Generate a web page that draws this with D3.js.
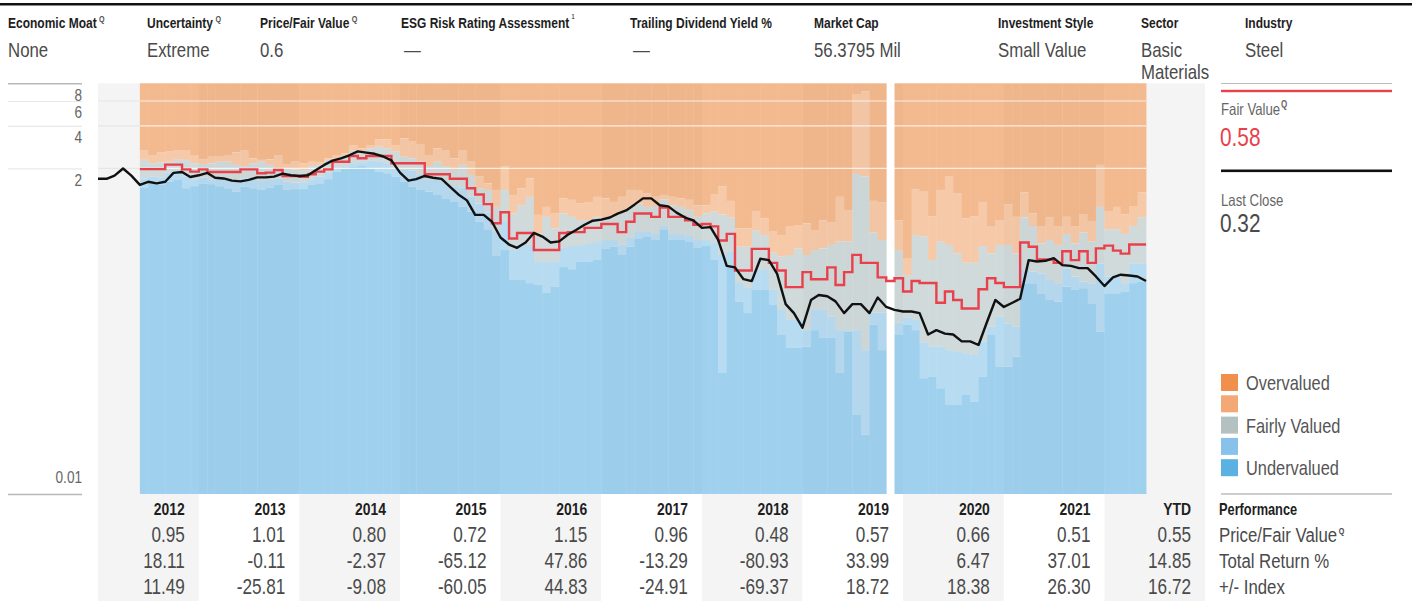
<!DOCTYPE html>
<html>
<head>
<meta charset="utf-8">
<script src="https://cdn.jsdelivr.net/npm/d3@7"></script>
<style>
  body { margin: 0; background: #fff; }
  svg { display: block; font-family: "Liberation Sans", Arial, sans-serif; }
</style>
</head>
<body>
<svg id="chart" width="1412" height="601"></svg>
<script>
// ---- header facts ----
const headerLabels = ["Economic Moat", "Uncertainty", "Price/Fair Value", "ESG Risk Rating Assessment",
  "Trailing Dividend Yield %", "Market Cap", "Investment Style", "Sector", "Industry"];
const headerMarks = ["Q", "Q", "Q", "1", "", "", "", "", ""];
const headerValues = ["None", "Extreme", "0.6", "—", "—", "56.3795 Mil", "Small Value", "Basic|Materials", "Steel"];

// ---- performance table ----
const years = ["2012", "2013", "2014", "2015", "2016", "2017", "2018", "2019", "2020", "2021", "YTD"];
const priceToFair = [0.95, 1.01, 0.80, 0.72, 1.15, 0.96, 0.48, 0.57, 0.66, 0.51, 0.55];
const totalReturn = [18.11, -0.11, -2.37, -65.12, 47.86, -13.29, -80.93, 33.99, 6.47, 37.01, 14.85];
const vsIndex = [11.49, -25.81, -9.08, -60.05, 44.83, -24.91, -69.37, 18.72, 18.38, 26.30, 16.72];
const rowLabels = ["Performance", "Price/Fair Value", "Total Return %", "+/- Index"];

// ---- y axis ticks ----
const yTicks = [8, 6, 4, 2, 0.01];
const yGrid = [6, 4, 2];

// ---- monthly valuation bands, Jun 2012 .. May 2022 (null = no data) ----
const overvaluedFloor = [2.70,2.49,2.59,2.63,2.70,2.67,2.49,2.33,2.42,2.45,
 2.49,2.59,2.70,2.36,2.30,2.32,2.49,2.15,2.23,2.18,
 2.26,2.20,2.36,2.49,2.56,2.90,2.78,2.93,3.22,3.22,
 2.93,3.27,3.09,2.98,2.49,2.78,2.70,2.36,2.70,2.23,
 1.75,1.57,1.41,2.06,1.30,1.45,1.70,0.94,1.07,0.96,
 1.23,1.20,1.13,1.16,1.26,1.23,1.16,1.26,1.41,1.41,
 1.34,1.26,1.30,1.26,1.23,1.20,1.10,1.10,1.32,1.49,
 1.18,0.755,0.755,0.99,0.89,0.715,0.677,0.784,0.797,0.82,
 0.726,0.855,0.827,1.26,1.005,6.72,6.98,1.18,1.146,null,
 0.855,0.46,1.43,1.37,0.92,1.41,1.75,1.34,0.89,0.92,
 1.16,0.775,0.865,1.12,0.91,1.35,0.96,0.784,0.898,0.784,
 0.91,0.775,0.953,0.84,2.12,0.99,1.07,0.95,1.086,1.357];
const fairCeiling = [2.30,2.18,2.21,2.23,2.33,2.30,2.18,2.15,2.18,2.23,
 2.23,2.12,2.08,2.18,2.23,2.12,2.00,2.00,1.97,1.95,
 2.08,2.12,2.30,2.36,2.49,2.67,2.63,2.78,2.85,2.78,
 2.63,2.42,2.36,2.23,2.08,2.23,2.08,1.95,2.12,1.80,
 1.45,1.41,1.07,1.41,0.96,1.10,1.26,0.696,0.91,0.755,
 0.96,0.91,0.865,0.865,0.91,0.89,0.91,0.99,1.07,1.13,
 1.07,1.086,1.21,1.10,1.07,1.02,0.91,0.96,0.99,0.948,
 0.903,0.56,0.56,0.726,0.677,0.508,0.476,0.489,0.545,0.489,
 0.53,0.545,0.576,0.607,0.607,1.83,1.75,0.703,0.624,null,
 0.53,0.353,0.677,0.659,0.451,0.607,0.576,0.503,0.431,0.431,
 0.566,0.503,0.576,0.576,0.503,0.903,0.784,0.592,0.624,0.576,
 0.688,0.592,0.703,0.607,1.07,0.743,0.743,0.688,0.784,0.903];
const fairFloor = [1.70,1.75,1.73,1.87,1.90,1.75,1.68,1.73,1.68,1.66,
 1.68,1.66,1.70,1.70,1.63,1.66,1.70,1.61,1.59,1.58,
 1.66,1.75,1.86,2.02,2.05,2.18,2.19,2.27,2.23,2.18,
 2.00,1.95,1.93,1.80,1.66,1.66,1.60,1.50,1.46,1.26,
 1.13,0.98,0.711,0.837,0.53,0.576,0.576,0.436,0.436,0.436,
 0.548,0.566,0.566,0.585,0.604,0.624,0.624,0.576,0.645,0.711,
 0.711,0.688,0.784,0.688,0.688,0.666,0.624,0.624,0.595,0.489,
 0.514,0.310,0.286,0.383,0.383,0.277,0.200,0.170,0.170,0.144,
 0.200,0.200,0.179,0.144,0.144,0.144,0.104,0.191,0.191,null,
 0.162,0.176,0.170,0.117,0.110,0.110,0.104,0.101,0.0989,0.0962,
 0.119,0.152,0.179,0.161,0.152,0.383,0.373,0.363,0.326,0.305,
 0.394,0.344,0.317,0.309,0.427,0.344,0.344,0.305,0.427,0.427];
const undervaluedCeiling = [1.47,1.57,1.53,1.61,1.66,1.45,1.50,1.57,1.55,1.50,
 1.45,1.37,1.49,1.45,1.41,1.47,1.53,1.41,1.43,1.43,
 1.53,1.57,1.68,1.90,2.00,2.06,2.08,2.00,1.90,1.85,
 1.75,1.61,1.49,1.41,1.37,1.30,1.23,1.16,1.07,0.99,
 0.84,0.735,0.481,0.53,0.326,0.326,0.309,0.300,0.264,0.292,
 0.404,0.388,0.438,0.438,0.451,0.545,0.56,0.489,0.56,0.642,
 0.656,0.624,0.735,0.624,0.624,0.604,0.548,0.566,0.451,0.0717,
 0.396,0.228,0.190,0.277,0.277,0.217,0.133,0.108,0.108,0.110,
 0.144,0.127,0.127,0.0717,0.140,0.0362,0.0262,0.157,0.104,null,
 0.133,0.157,0.144,0.0658,0.0675,0.0559,0.0426,0.0426,0.0502,0.0449,
 0.0675,0.133,0.0795,0.0795,0.0936,0.309,0.309,0.262,0.235,0.229,
 0.292,0.277,0.285,0.223,0.140,0.262,0.262,0.269,0.309,0.317];
const fairValue = [1.98,1.98,1.98,2.13,2.13,1.97,1.90,1.97,1.89,1.89,
 1.89,1.89,1.97,1.97,1.85,1.87,1.95,1.77,1.77,1.75,
 1.82,1.90,1.97,2.23,2.23,2.45,2.36,2.45,2.45,2.45,
 2.18,2.18,2.18,2.18,1.82,1.82,1.82,1.69,1.69,1.45,
 1.31,1.12,0.82,0.98,0.64,0.70,0.70,0.53,0.53,0.53,
 0.70,0.71,0.71,0.76,0.76,0.81,0.81,0.71,0.84,0.96,
 0.96,0.91,1.06,0.91,0.91,0.86,0.80,0.81,0.78,0.62,
 0.69,0.38,0.38,0.54,0.54,0.43,0.38,0.29,0.29,0.37,
 0.33,0.33,0.40,0.30,0.37,0.49,0.43,0.43,0.34,0.32,
 0.335,0.27,0.32,0.31,0.31,0.225,0.27,0.235,0.205,0.205,
 0.28,0.335,0.31,0.29,0.29,0.60,0.56,0.455,0.455,0.43,
 0.52,0.45,0.52,0.43,0.545,0.57,0.525,0.50,0.58,0.58];
// ---- monthly close, Jan 2012 .. Jun 2022 ----
const closePrice = [1.69,1.69,1.78,2.00,1.78,1.53,1.61,1.57,1.61,1.86,
 1.89,1.74,1.79,1.86,1.72,1.70,1.64,1.62,1.66,1.73,
 1.73,1.75,1.84,1.79,1.77,1.79,1.94,2.12,2.27,2.36,
 2.48,2.64,2.59,2.54,2.43,2.28,1.87,1.64,1.68,1.77,
 1.72,1.69,1.49,1.31,1.19,0.94,0.94,0.84,0.65,0.58,
 0.55,0.60,0.70,0.66,0.60,0.61,0.68,0.735,0.80,0.855,
 0.87,0.90,0.96,1.01,1.11,1.23,1.23,1.10,1.08,0.975,
 0.90,0.86,0.76,0.77,0.625,0.41,0.40,0.33,0.32,0.46,
 0.45,0.36,0.22,0.19,0.15,0.235,0.255,0.25,0.23,0.19,
 0.22,0.22,0.19,0.245,0.21,0.20,0.195,0.195,0.19,0.134,
 0.144,0.136,0.134,0.12,0.12,0.113,0.165,0.235,0.21,0.225,
 0.24,0.45,0.44,0.445,0.465,0.415,0.41,0.395,0.395,0.345,
 0.295,0.34,0.355,0.35,0.345,0.32];

const legendLabels = ["Overvalued", "", "Fairly Valued", "", "Undervalued"];
const legendColors = ["#f0904c", "#f2a975", "#b3c1c0", "#88c2ea", "#5cb1e3"];
const bandColors = ["#f3b98f", "#f6caa8", "#d0dadb", "#b7dbf1", "#9fd1ee"];

const svg = d3.select('#chart');
const fmt = d3.formatLocale({ decimal: '.', thousands: ',', grouping: [3], currency: ['$', ''], minus: '-' }).format('.2f');
const ink = '#1e1e1e', soft = '#4a4a4a', grey = '#666';
const NARROW = 0.8;

// text drawn with Arial metrics squeezed horizontally (no condensed face installed)
function label(parent, px, py, str, size, o = {}) {
  return parent.append('text')
    .attr('transform', `translate(${px},${py}) scale(${o.sx || NARROW},1)`)
    .attr('font-size', size)
    .attr('font-weight', o.bold ? 'bold' : null)
    .attr('text-anchor', o.anchor || null)
    .attr('fill', o.fill || soft)
    .text(str);
}

const x = d3.scaleTime()
  .domain([new Date(2012, 0, 1), new Date(2023, 0, 1)])
  .range([98, 1205]);
const y = d3.scaleLog()
  .domain([0.01, 8])
  .range([494, 83.3]);

const yearStart = i => new Date(2012 + i, 0, 1);

// top rule
svg.append('rect').attr('x', 0).attr('y', 3).attr('width', 1412).attr('height', 2.5).attr('fill', '#111');

// header
const head = svg.append('g');
const headerX = [8, 147, 260, 401, 630, 814, 998, 1141, 1245];
headerLabels.forEach((lab, i) => {
  const t = label(head, headerX[i], 28, lab, 15, { bold: true, fill: ink });
  if (headerMarks[i]) {
    t.append('tspan').attr('dx', 3).attr('dy', headerMarks[i] === 'Q' ? -6 : -9)
      .attr('font-size', headerMarks[i] === 'Q' ? 9 : 7).attr('fill', '#555').text(headerMarks[i]);
  }
  headerValues[i].split('|').forEach((line, j) => {
    label(head, headerX[i] + (line === '—' ? 3 : 0), 56.5 + j * 22, line, 20.5, { sx: 0.82 });
  });
});

// year bands (alternating background)
svg.append('g').selectAll('rect').data(years).join('rect')
  .attr('x', (d, i) => x(yearStart(i)))
  .attr('y', 83.3)
  .attr('width', (d, i) => x(yearStart(i + 1)) - x(yearStart(i)))
  .attr('height', 601 - 83.3)
  .attr('fill', (d, i) => i % 2 ? '#ffffff' : '#f4f4f4');

// monthly bars
const barStart = new Date(2012, 5, 1);
const bars = fairValue.map((fv, i) => {
  const m = d3.timeMonth.offset(barStart, i);
  return {
    m, next: d3.timeMonth.offset(m, 1),
    edges: [8, overvaluedFloor[i], fairCeiling[i], fairFloor[i], undervaluedCeiling[i], 0.01]
  };
}).filter(d => d.edges[1] != null);

const barG = svg.append('g');
bars.forEach(b => {
  const odd = (b.m.getFullYear() - 2012) % 2 === 1;
  barG.selectAll(null).data(d3.range(5)).join('rect')
    .attr('x', x(b.m))
    .attr('width', x(b.next) - x(b.m) + 0.4)
    .attr('y', k => y(b.edges[k]))
    .attr('height', k => y(b.edges[k + 1]) - y(b.edges[k]))
    .attr('fill', k => odd ? d3.color(bandColors[k]).darker(0.05) : bandColors[k]);
});

// grid lines
const firstBar = x(barStart), lastBar = x(d3.timeMonth.offset(barStart, fairValue.length));
const grid = svg.append('g');
grid.selectAll('line.p').data(yGrid).join('line')
  .attr('x1', 98).attr('x2', firstBar)
  .attr('y1', d => y(d)).attr('y2', d => y(d))
  .attr('stroke', '#e6e6e6').attr('stroke-width', 1.2);
grid.selectAll('line.w').data(yGrid).join('line')
  .attr('x1', firstBar).attr('x2', lastBar)
  .attr('y1', d => y(d)).attr('y2', d => y(d))
  .attr('stroke', '#fff').attr('stroke-opacity', 0.75).attr('stroke-width', 1.2);

// left axis
const axis = svg.append('g').attr('transform', 'translate(82,0)')
  .call(d3.axisLeft(y).tickValues(yTicks).tickSize(74).tickFormat(d => d));
axis.select('.domain').remove();
axis.selectAll('line')
  .attr('stroke', d => (d === 8 || d === 0.01) ? '#b8b8b8' : '#e8e8e8')
  .attr('stroke-width', d => (d === 8 || d === 0.01) ? 1.5 : 1.2);
axis.selectAll('text')
  .attr('x', 0).attr('dy', d => d === 0.01 ? -11.5 : 17)
  .attr('transform', 'scale(0.8,1)')
  .attr('font-family', null).attr('font-size', 17).attr('fill', grey);

// fair value step line
const fvPts = fairValue.map((v, i) => ({ m: d3.timeMonth.offset(barStart, i), v }));
fvPts.push({ m: d3.timeMonth.offset(barStart, fairValue.length), v: fairValue[fairValue.length - 1] });
svg.append('path').datum(fvPts)
  .attr('fill', 'none').attr('stroke', '#e8414b').attr('stroke-width', 2.4)
  .attr('d', d3.line().x(d => x(d.m)).y(d => y(d.v)).curve(d3.curveStepAfter));

// price line
const pricePts = closePrice.map((v, k) => ({ m: d3.timeMonth.offset(new Date(2012, 0, 1), k), v }));
svg.append('path').datum(pricePts)
  .attr('fill', 'none').attr('stroke', '#111').attr('stroke-width', 2.4).attr('stroke-linejoin', 'round')
  .attr('d', d3.line().x(d => x(d.m)).y(d => y(d.v)));

// right panel
const rp = svg.append('g');
rp.append('line').attr('x1', 1221).attr('x2', 1392).attr('y1', 83.5).attr('y2', 83.5).attr('stroke', '#bdbdbd');
rp.append('rect').attr('x', 1221).attr('y', 89.8).attr('width', 171).attr('height', 2.4).attr('fill', '#e8414b');
label(rp, 1221, 115, 'Fair Value', 16.5, { fill: grey })
  .append('tspan').attr('dx', 1).attr('dy', -7).attr('font-size', 10).attr('font-weight', 'bold').text('Q');
label(rp, 1220, 146, fmt(fairValue[fairValue.length - 1]), 26, { fill: '#e8414b' });
rp.append('rect').attr('x', 1221).attr('y', 169.5).attr('width', 171).attr('height', 2.6).attr('fill', '#111');
label(rp, 1221, 206, 'Last Close', 16.5, { fill: grey });
label(rp, 1220, 231.5, fmt(closePrice[closePrice.length - 1]), 26, { fill: soft });

const leg = rp.selectAll('g.leg').data(legendLabels).join('g')
  .attr('transform', (d, i) => `translate(1221,${374 + i * 21.3})`);
leg.append('rect').attr('width', 17).attr('height', 17).attr('fill', (d, i) => legendColors[i]);
leg.append('text').attr('transform', 'translate(25,16) scale(0.82,1)')
  .attr('font-size', 20).attr('fill', '#555').text(d => d);
rp.append('line').attr('x1', 1221).attr('x2', 1392).attr('y1', 494).attr('y2', 494).attr('stroke', '#bdbdbd').attr('stroke-width', 1.5);

// performance table
const rowY = [514.5, 541.5, 567.5, 593.5];
const tbl = svg.append('g');
const colRight = i => x(yearStart(i + 1)) - 14;
years.forEach((yr, i) => label(tbl, colRight(i), rowY[0], yr, 17, { bold: true, fill: ink, anchor: 'end', sx: 0.82 }));
[priceToFair, totalReturn, vsIndex].forEach((row, r) => {
  row.forEach((v, i) => label(tbl, colRight(i), rowY[r + 1], fmt(v), 22, { anchor: 'end', sx: 0.78 }));
});
rowLabels.forEach((lab, r) => {
  const t = label(svg, 1219, rowY[r], lab, r === 0 ? 16 : 21, { bold: r === 0, fill: r === 0 ? ink : soft });
  if (r === 1) t.append('tspan').attr('dx', 2).attr('dy', -8).attr('font-size', 9).attr('font-weight', 'bold').text('Q');
});
</script>
</body>
</html>
